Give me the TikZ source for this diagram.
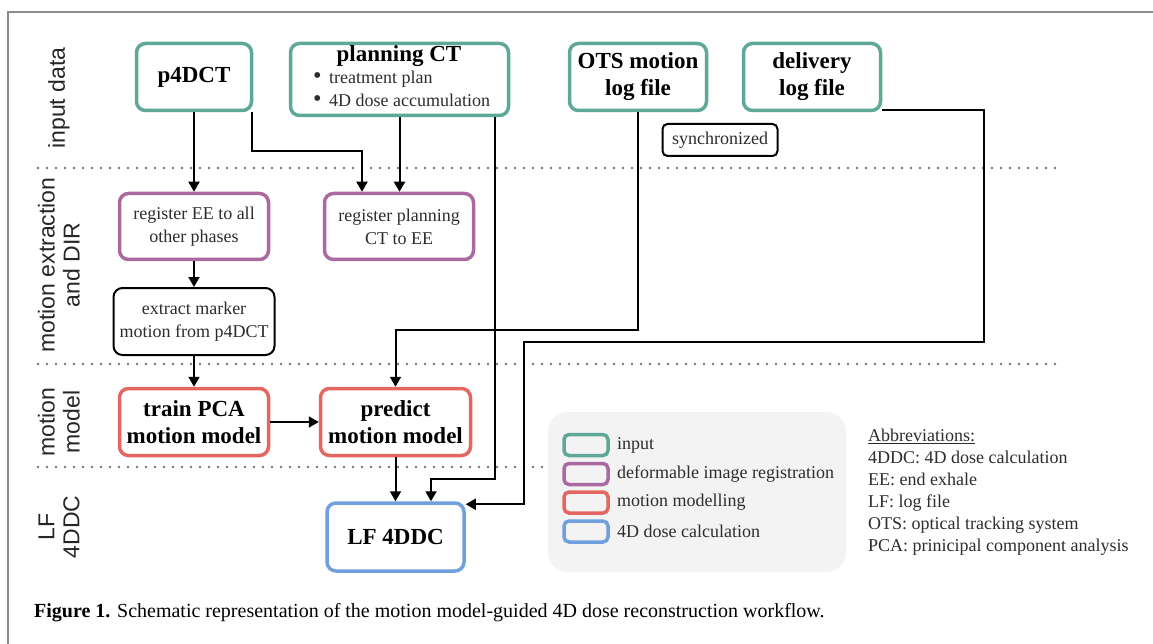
\documentclass[tikz,border=0pt]{standalone}
\usepackage{fontspec}
\setmainfont{Liberation Serif}
\newfontfamily\sidefont{Liberation Sans}
\usetikzlibrary{arrows.meta,calc}
\definecolor{inputc}{RGB}{95,168,152}
\definecolor{dirc}{RGB}{170,105,160}
\definecolor{modelc}{RGB}{228,102,96}
\definecolor{dosec}{RGB}{112,160,222}
\definecolor{framec}{RGB}{140,140,140}
\definecolor{dotc}{RGB}{115,115,115}
\definecolor{legendfill}{RGB}{243,243,243}
\definecolor{txt}{RGB}{45,45,45}
\newcommand{\bigbullet}{\raisebox{0.5pt}{\scalebox{1.35}{\textbullet}}}
\begin{document}
\begin{tikzpicture}[x=1pt,y=-1pt,
  box/.style={rounded corners=9pt, line width=3.5pt, inner sep=0pt, align=center},
  bigtext/.style={font=\bfseries\fontsize{23}{27}\selectfont},
  smalltext/.style={font=\fontsize{18}{23}\selectfont, text=txt},
  inbox/.style={box, draw=inputc, bigtext},
  dirbox/.style={box, draw=dirc, smalltext},
  plainbox/.style={box, draw=black, line width=2pt, smalltext},
  modbox/.style={box, draw=modelc, bigtext},
  dosebox/.style={box, draw=dosec, bigtext},
  flow/.style={line width=2pt, -{Triangle[length=10pt,width=11pt]}},
  sep/.style={dotc, line width=2.6pt, line cap=round, dash pattern=on 0pt off 9pt},
  side/.style={rotate=90, font=\sidefont\fontsize{23}{25}\selectfont, align=center, text=black!85},
  swatch/.style={rounded corners=5pt, line width=3.5pt, minimum width=44pt, minimum height=21pt, inner sep=0pt},
  legtext/.style={anchor=west, inner sep=0pt, font=\fontsize{18}{22}\selectfont, text=txt},
]
\useasboundingbox (0,0) rectangle (1153,644);
\fill[white] (0,0) rectangle (1153,644);

% outer frame (top and left edges)
\draw[framec, line width=1.5pt] (8,644) -- (8,12) -- (1153,12);

% lane separators
\draw[sep] (38,168) -- (1062,168);
\draw[sep] (38,364) -- (1062,364);
\draw[sep] (38,467) -- (544,467);

% lane labels
\node[side] (lab1) at (59,98) {input data};
\node[side] (lab2) at (59,265) {motion extraction\\and DIR};
\node[side] (lab3) at (59,422) {motion\\model};
\node[side] (lab4) at (59,527) {LF\\4DDC};

% input data
\node[inbox, minimum width=115pt, minimum height=67pt] (p4dct) at (194,77) {p4DCT};
\node[box, draw=inputc, minimum width=218pt, minimum height=72pt] (planct) at (399.5,79.5) {};
\node[bigtext, inner sep=0pt] (pcttitle) at (399,56) {planning CT};
\node[smalltext, anchor=west, align=left, inner sep=0pt] (pctlist) at (313,89) {\bigbullet\ \,treatment plan\\\bigbullet\ \,4D dose accumulation};
\node[inbox, minimum width=137pt, minimum height=67pt] (ots) at (638,77) {OTS motion\\log file};
\node[inbox, minimum width=137pt, minimum height=67pt] (deliv) at (812,77) {delivery\\log file};
\node[box, draw=black, line width=2pt, rounded corners=5pt, smalltext, minimum width=115pt, minimum height=32pt] (sync) at (720,140) {synchronized};

% motion extraction and DIR
\node[dirbox, minimum width=149pt, minimum height=66pt] (regee) at (194,226.5) {register EE to all\\other phases};
\node[dirbox, minimum width=149pt, minimum height=66pt] (regplan) at (399,226.5) {register planning\\CT to EE};
\node[plainbox, minimum width=161pt, minimum height=67pt] (extract) at (194,321.5) {extract marker\\motion from p4DCT};

% motion model
\node[modbox, minimum width=149pt, minimum height=67pt] (train) at (194,422) {train PCA\\motion model};
\node[modbox, minimum width=150pt, minimum height=67pt] (predict) at (395.5,422) {predict\\motion model};

% dose calculation
\node[dosebox, minimum width=137pt, minimum height=68pt] (lf) at (395.5,537) {LF 4DDC};

% bend points
\coordinate (pbend) at (362,151);
\coordinate (cbend) at (431,479);
\coordinate (obend) at (395.5,330);
\coordinate (dbend1) at (984,110);
\coordinate (dbend2) at (984,342);
\coordinate (dbend3) at (524,342);

% connectors
\draw[flow] (p4dct.south) -- (regee.north);
\draw[flow] ([xshift=-1pt]p4dct.south east) |- (pbend) -- (pbend |- regplan.north);
\draw[flow] (planct.south) -- (planct.south |- regplan.north);
\draw[flow] ([xshift=95.5pt]planct.south) |- (cbend) -- (cbend |- lf.north);
\draw[flow] (ots.south) |- (obend) -- (predict.north);
\draw[flow] (deliv.south east |- dbend1) -- (dbend1) -- (dbend2) -- (dbend3) |- ([yshift=-3pt]lf.north east);
\draw[flow] (regee.south) -- (extract.north);
\draw[flow] (extract.south) -- (train.north);
\draw[flow] (train.east) -- (predict.west);
\draw[flow] (predict.south) -- (lf.north);

% legend
\node[fill=legendfill, rounded corners=20pt, minimum width=298pt, minimum height=160pt, inner sep=0pt] (legend) at (697,492) {};
\node[swatch, draw=inputc] (sw1) at (586,445) {};
\node[swatch, draw=dirc] (sw2) at (586,474) {};
\node[swatch, draw=modelc] (sw3) at (586,502.5) {};
\node[swatch, draw=dosec] (sw4) at (586,531.5) {};
\node[legtext] (lt1) at (617,445) {input};
\node[legtext] (lt2) at (617,474) {deformable image registration};
\node[legtext] (lt3) at (617,502.5) {motion modelling};
\node[legtext] (lt4) at (617,531.5) {4D dose calculation};

% abbreviations
\node[anchor=north west, align=left, inner sep=0pt, font=\fontsize{18}{22}\selectfont, text=txt] (abbr) at (868,429)
  {\underline{Abbreviations:}\\4DDC: 4D dose calculation\\EE: end exhale\\LF: log file\\OTS: optical tracking system\\PCA: prinicipal component analysis};

% caption
\node[anchor=west, inner sep=0pt, font=\fontsize{20}{23}\selectfont] (caption) at (34,613)
  {\textbf{Figure 1.} Schematic representation of the motion model-guided 4D dose reconstruction workflow.};
\end{tikzpicture}
\end{document}
